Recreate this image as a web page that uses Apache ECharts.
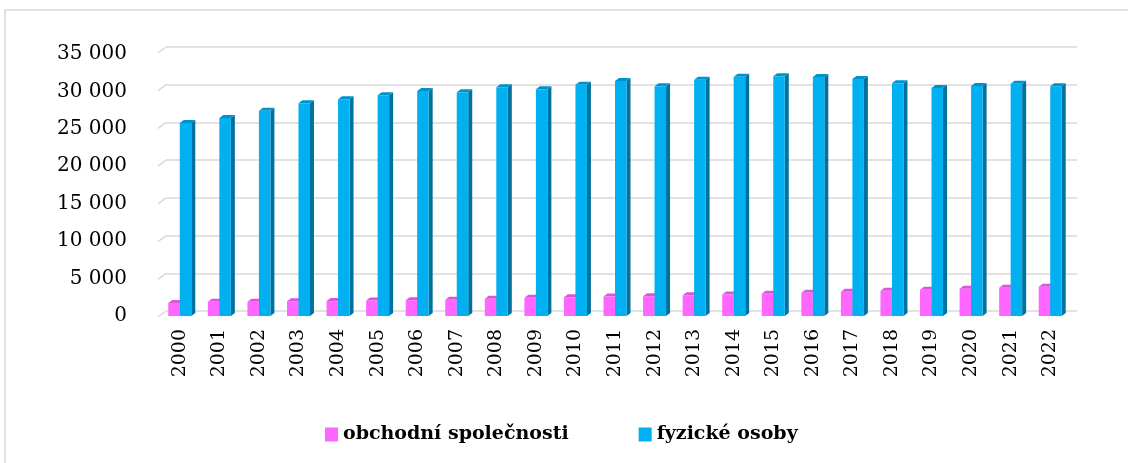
<!DOCTYPE html>
<html>
<head>
<meta charset="utf-8">
<script src="https://cdn.jsdelivr.net/npm/echarts@6/dist/echarts.min.js"></script>
<style>
  html, body { margin: 0; padding: 0; background: #fff; }
  #chart { width: 1128px; height: 463px; }
</style>
</head>
<body>
<div id="chart"></div>
<script>
const years = ['2000', '2001', '2002', '2003', '2004', '2005', '2006', '2007', '2008', '2009', '2010',
  '2011', '2012', '2013', '2014', '2015', '2016', '2017', '2018', '2019', '2020', '2021', '2022'];
const companies = [1750, 1900, 1900, 1980, 1990, 2070, 2110, 2160, 2300, 2430, 2510,
  2600, 2650, 2780, 2870, 2960, 3100, 3230, 3370, 3500, 3630, 3770, 3900];
const persons = [25780, 26450, 27430, 28410, 28950, 29480, 30060, 29900, 30550, 30280, 30900,
  31390, 30680, 31570, 31970, 32020, 31930, 31660, 31080, 30460, 30720, 31040, 30680];
const yTicks = [0, 5000, 10000, 15000, 20000, 25000, 30000, 35000];
const seriesNames = ['obchodní společnosti', 'fyzické osoby'];

const chart = echarts.init(document.getElementById('chart'));

// simple fake-3D bar: front face, right side, top
function bar3d(offset, front, side, top) {
  return function (params, api) {
    const base = api.coord([api.value(0), 0]);
    const tip = api.coord([api.value(0), api.value(1)]);
    const w = 11.5, dx = 4, dy = -3;
    const x = base[0] + offset * w;
    const y0 = base[1], y1 = tip[1];
    return {
      type: 'group',
      children: [
        { type: 'polygon', shape: { points: [[x + w, y0], [x + w + dx, y0 + dy], [x + w + dx, y1 + dy], [x + w, y1]] }, style: { fill: side } },
        { type: 'polygon', shape: { points: [[x, y1], [x + dx, y1 + dy], [x + w + dx, y1 + dy], [x + w, y1]] }, style: { fill: top } },
        { type: 'rect', shape: { x: x, y: y1, width: w, height: y0 - y1 }, style: { fill: front } }
      ]
    };
  };
}

// short slanted piece of each gridline on the side wall
function wallTick(params, api) {
  const p = api.coord([0, api.value(0)]);
  const x0 = params.coordSys.x;
  return {
    type: 'polyline',
    shape: { points: [[x0 - 8, p[1] + 6], [x0, p[1]]] },
    style: { stroke: '#D9D9D9', lineWidth: 1.5, fill: null }
  };
}

const fmt = v => String(v).replace(/\B(?=(\d{3})+(?!\d))/g, ' ');

const option = {
  animation: false,
  graphic: [{
    type: 'rect',
    shape: { x: 5, y: 10, width: 1130, height: 460 },
    style: { fill: null, stroke: '#D9D9D9', lineWidth: 1.5 },
    z: -10
  }],
  grid: [
    { left: 160, top: 54, width: 910, height: 262 },
    { left: 166, top: 47, width: 911, height: 264 }
  ],
  legend: {
    data: seriesNames,
    left: 320,
    top: 420,
    icon: 'rect',
    itemWidth: 13,
    itemHeight: 14,
    itemGap: 70,
    textStyle: { fontFamily: 'DejaVu Serif', fontWeight: 'bold', fontSize: 19, color: '#000' }
  },
  xAxis: [
    {
      type: 'category', gridIndex: 0, data: years,
      axisLine: { show: false }, axisTick: { show: false },
      axisLabel: { rotate: 90, margin: 13, fontFamily: 'DejaVu Serif', fontSize: 19, color: '#000' }
    },
    { type: 'category', gridIndex: 1, data: years, show: false }
  ],
  yAxis: [
    {
      type: 'value', gridIndex: 0, min: 0, max: 35000, interval: 5000,
      splitLine: { show: false }, axisLine: { show: false }, axisTick: { show: false },
      axisLabel: { margin: 33, fontFamily: 'DejaVu Serif', fontSize: 20, color: '#000', formatter: fmt }
    },
    {
      type: 'value', gridIndex: 1, min: 0, max: 35000, interval: 5000,
      axisLine: { show: false }, axisTick: { show: false }, axisLabel: { show: false },
      splitLine: { lineStyle: { color: '#D9D9D9', width: 1.5 } }
    }
  ],
  series: [
    {
      type: 'custom', name: 'wall', xAxisIndex: 1, yAxisIndex: 1,
      data: yTicks.map(v => [v]), encode: { y: 0 },
      renderItem: wallTick, silent: true, z: 1
    },
    {
      type: 'custom', name: seriesNames[0], xAxisIndex: 0, yAxisIndex: 0,
      data: years.map((y, i) => [i, companies[i]]), encode: { x: 0, y: 1 },
      itemStyle: { color: '#FF66FF' },
      renderItem: bar3d(-1, '#FF66FF', '#C94FC9', '#D955D9'), z: 3
    },
    {
      type: 'custom', name: seriesNames[1], xAxisIndex: 0, yAxisIndex: 0,
      data: years.map((y, i) => [i, persons[i]]), encode: { x: 0, y: 1 },
      itemStyle: { color: '#00B0F0' },
      renderItem: bar3d(0, '#00B0F0', '#00729E', '#0092CC'), z: 4
    }
  ]
};

chart.setOption(option);
</script>
</body>
</html>
